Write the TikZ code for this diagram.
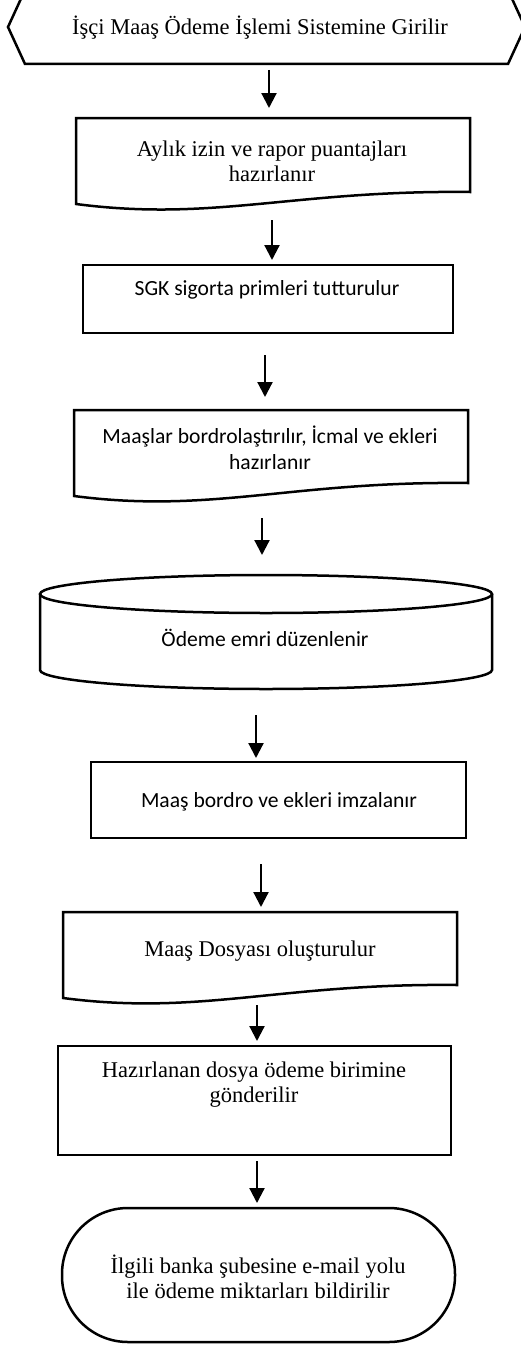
\documentclass[tikz,border=0pt]{standalone}
\usepackage{fontspec}
\setmainfont{Liberation Serif}
\newfontfamily\sansf{Carlito}
\usetikzlibrary{arrows.meta}
\begin{document}
\begin{tikzpicture}[x=1pt,y=-1pt,
  outl/.style={draw=black, line width=2.5pt, line join=miter},
  serift/.style={font=\fontsize{22.5}{25}\selectfont, align=center, inner sep=0pt},
  sanst/.style={font=\sansf\fontsize{21.6}{26}\selectfont, align=center, inner sep=0pt},
  arr/.style={line width=2.2pt, -{Triangle[width=15pt,length=15pt]}},
  boxn/.style={draw=black, line width=2.5pt, inner sep=0pt, rectangle}]
\useasboundingbox (0,0) rectangle (520,1346);

% 1 display shape
\draw[outl] (25,-10) -- (8,27) -- (25,64) -- (508,64) -- (525,27) -- (508,-10) -- cycle;
\node[serift] (t1) at (260,28) {İşçi Maaş Ödeme İşlemi Sistemine Girilir};

% 2 document
\draw[outl] (76,118) -- (470,118) -- (470,192) .. controls (293,190) and (214,222) .. (76,204) -- cycle;
\node[serift] (t2) at (272,161) {Aylık izin ve rapor puantajları\\hazırlanır};

% 3 process
\node[boxn, minimum width=370, minimum height=68] (b3) at (268,299) {};
\node[sanst] (t3) at (267,290) {SGK sigorta primleri tutturulur};

% 4 document
\draw[outl] (74,410) -- (468,410) -- (468,483) .. controls (291,481) and (212,514) .. (74,496) -- cycle;
\node[sanst] (t4) at (270,448) {Maaşlar bordrolaştırılır, İcmal ve ekleri\\hazırlanır};

% 5 cylinder
\draw[outl] (266,594) ellipse [x radius=226, y radius=19];
\draw[outl] (40,594) -- (40,670) arc[start angle=180, end angle=0, x radius=226, y radius=19] -- (492,594);
\node[sanst] (t5) at (265,638) {Ödeme emri düzenlenir};

% 6 process
\node[boxn, minimum width=375, minimum height=76] (b6) at (278.5,800) {};
\node[sanst] (t6) at (279,802) {Maaş bordro ve ekleri imzalanır};

% 7 document
\draw[outl] (63,912) -- (457,912) -- (457,985) .. controls (280,983) and (201,1016) .. (63,998) -- cycle;
\node[serift] (t7) at (260,951) {Maaş Dosyası oluşturulur};

% 8 process
\node[boxn, minimum width=393, minimum height=109] (b8) at (254.5,1100.5) {};
\node[serift] (t8) at (254,1085) {Hazırlanan dosya ödeme birimine\\gönderilir};

% 9 terminator
\node[boxn, rounded corners=66, minimum width=393, minimum height=134] (b9) at (258.5,1275) {};
\node[serift] (t9) at (258,1277) {İlgili banka şubesine e-mail yolu\\ile ödeme miktarları bildirilir};

% arrows
\coordinate (a1s) at (269,70);   \coordinate (a1e) at (269,108);
\coordinate (a2s) at (272,220);  \coordinate (a2e) at (272,260);
\coordinate (a3s) at (265,355);  \coordinate (a3e) at (265,397);
\coordinate (a4s) at (262,518);  \coordinate (a4e) at (262,555);
\coordinate (a5s) at (256,715);  \coordinate (a5e) at (256,758);
\coordinate (a6s) at (261,864);  \coordinate (a6e) at (261,907);
\coordinate (a7s) at (257,1005); \coordinate (a7e) at (257,1041);
\coordinate (a8s) at (257,1161); \coordinate (a8e) at (257,1203);
\foreach \i in {1,...,8} { \draw[arr] (a\i s) -- (a\i e); }
\end{tikzpicture}
\end{document}
